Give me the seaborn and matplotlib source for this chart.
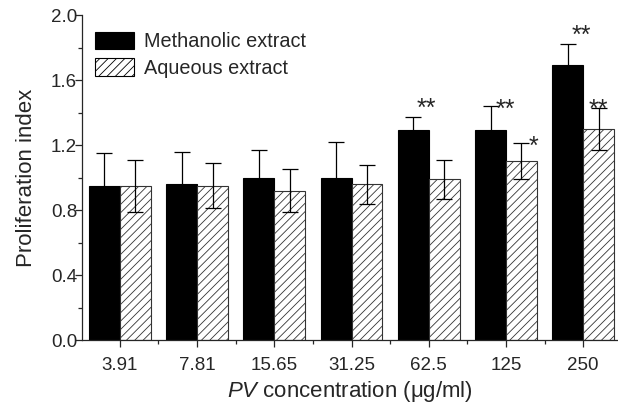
import seaborn as sns
import matplotlib.pyplot as plt
import matplotlib.ticker as mticker
import numpy as np
import pandas as pd

concentrations = ["3.91", "7.81", "15.65", "31.25", "62.5", "125", "250"]
methanolic = [0.95, 0.96, 1.00, 1.00, 1.29, 1.29, 1.69]
methanolic_sd = [0.20, 0.20, 0.17, 0.22, 0.08, 0.15, 0.13]
aqueous = [0.95, 0.95, 0.92, 0.96, 0.99, 1.10, 1.30]
aqueous_sd = [0.16, 0.14, 0.13, 0.12, 0.12, 0.11, 0.13]
methanolic_sig = ["", "", "", "", "**", "**", "**"]
aqueous_sig = ["", "", "", "", "", "*", "**"]

sns.set_style("ticks")
plt.rcParams['font.family'] = ['Liberation Sans', 'DejaVu Sans']
plt.rcParams['mathtext.fontset'] = 'custom'
plt.rcParams['mathtext.rm'] = 'Liberation Sans'
plt.rcParams['mathtext.it'] = 'Liberation Sans:italic'
plt.rcParams['hatch.linewidth'] = 0.6

df = pd.DataFrame({
    "conc": concentrations * 2,
    "value": methanolic + aqueous,
    "extract": ["Methanolic extract"] * 7 + ["Aqueous extract"] * 7,
})

fig = plt.figure(figsize=(6.18, 4.07), dpi=100)
ax = fig.add_axes([0.1327, 0.1646, 0.866, 0.7985])

sns.barplot(data=df, x="conc", y="value", hue="extract", order=concentrations,
            palette=["black", "white"], width=0.8, errorbar=None,
            edgecolor="black", linewidth=0.8, ax=ax, zorder=2)

# hatch the aqueous bars
for p in ax.containers[1]:
    p.set_hatch("////")
    p.set_edgecolor("#333333")

# error bars
for cont, vals, sds in [(ax.containers[0], methanolic, methanolic_sd),
                        (ax.containers[1], aqueous, aqueous_sd)]:
    xs = [p.get_x() + p.get_width() / 2 for p in cont]
    ax.errorbar(xs, vals, yerr=sds, fmt="none", ecolor="black", elinewidth=0.9,
                capsize=5.5, capthick=0.9, zorder=3)

# significance stars: placed above the cap, or beside it when it would overlap
for cont, vals, sds, sig in [(ax.containers[0], methanolic, methanolic_sd, methanolic_sig),
                             (ax.containers[1], aqueous, aqueous_sd, aqueous_sig)]:
    for i, (p, v, s, t) in enumerate(zip(cont, vals, sds, sig)):
        if not t:
            continue
        x = p.get_x() + p.get_width() / 2
        top = v + s
        if cont is ax.containers[0] and i in (4, 6):
            xo, yo = 0.17, 0.05
        elif cont is ax.containers[0]:
            xo, yo = 0.19, -0.025
        elif t == "*":
            xo, yo = 0.15, -0.02
        else:
            xo, yo = 0.0, -0.015
        ax.text(x + xo, top + yo, t, ha="center", va="center", fontsize=18)

ax.set_xlim(-0.49, 6.44)
ax.set_ylim(0, 2.0)
ax.yaxis.set_major_locator(mticker.MultipleLocator(0.4))
ax.yaxis.set_minor_locator(mticker.MultipleLocator(0.2))
ax.yaxis.set_major_formatter(mticker.FormatStrFormatter("%.1f"))
ax.xaxis.set_minor_locator(mticker.FixedLocator(np.arange(0.5, 6.5, 1)))
ax.tick_params(axis="both", which="major", labelsize=13.5, length=5, width=0.9, direction="out")
ax.tick_params(axis="both", which="minor", length=3, width=0.9, direction="out")
ax.tick_params(axis="x", pad=7)
ax.tick_params(axis="y", pad=-1.5)
for sp in ["left", "bottom"]:
    ax.spines[sp].set_linewidth(0.9)
sns.despine(ax=ax)

ax.set_xlabel(r"$\mathit{PV}$ concentration (μg/ml)", fontsize=16, labelpad=4)
ax.set_ylabel("Proliferation index", fontsize=16, labelpad=10)

leg = ax.legend(loc="upper left", bbox_to_anchor=(0.0243, 0.948), frameon=False, fontsize=14.3,
                handlelength=1.97, handleheight=0.96, labelspacing=0.35, handletextpad=0.5,
                borderaxespad=0, borderpad=0)
for h in leg.legend_handles:
    h.set_edgecolor("black")
leg.legend_handles[1].set_hatch("////")

fig.savefig("out.png", dpi=100)
